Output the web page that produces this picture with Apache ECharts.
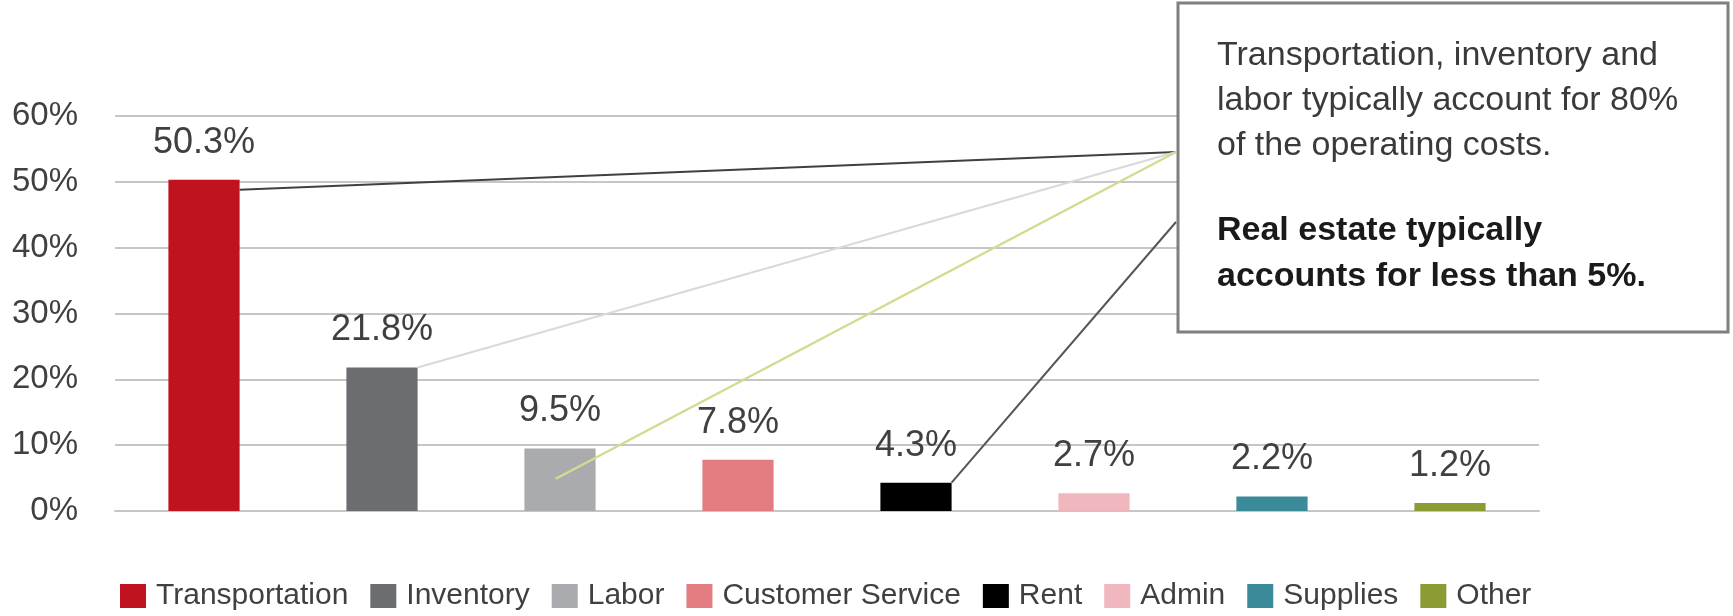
<!DOCTYPE html>
<html><head><meta charset="utf-8">
<script src="https://cdn.jsdelivr.net/npm/echarts@6/dist/echarts.min.js"></script>
<style>html,body{margin:0;padding:0;background:#fff}#c{width:1733px;height:616px}</style>
</head><body><div id="c"></div>
<script>
const categories = ['Transportation','Inventory','Labor','Customer Service','Rent','Admin','Supplies','Other'];
const shares = [50.3, 21.8, 9.5, 7.8, 4.3, 2.7, 2.2, 1.2];
const barColors = ['#c1121f','#6b6d70','#a9abae','#e27c80','#000000','#f1b7be','#3a8a99','#8d9b34'];
const noteLines = ['Transportation, inventory and','labor typically account for 80%','of the operating costs.'];
const noteBold = ['Real estate typically','accounts for less than 5%.'];
// callout anchors: category index, value on the bar where line starts, horizontal offset in bar widths
const callouts = [
  {idx:0, value:48.8, edge:0.5, color:'#404040', width:2, target:0},
  {idx:1, value:21.8, edge:0.5, color:'#d9d9d9', width:2, target:0},
  {idx:2, value:4.9, edge:-0.06, color:'#d6da8e', width:2.5, target:0},
  {idx:4, value:4.3, edge:0.5, color:'#555555', width:2, target:1}
];
const FONT = '"Liberation Sans", Arial, sans-serif';
const box = {x:1178, y:3, w:550, h:329};
const targets = [[1176,152],[1176,222]];

const chart = echarts.init(document.getElementById('c'), null, {renderer:'canvas'});
chart.setOption({
  animation:false,
  backgroundColor:'#fff',
  grid:{left:115, right:194, top:116, bottom:105, containLabel:false},
  xAxis:{type:'category', data:categories, axisLabel:{show:false}, axisTick:{show:false},
    axisLine:{show:true, lineStyle:{color:'#c6c6c6', width:2}}},
  yAxis:{type:'value', min:0, max:60, interval:10,
    axisLabel:{formatter:'{value}%', fontSize:33, color:'#404040', fontFamily:FONT, margin:37},
    axisLine:{show:false}, axisTick:{show:false},
    splitLine:{lineStyle:{color:'#c6c6c6', width:2}}},
  legend:{data:categories, left:115, top:576, itemWidth:26, itemHeight:24, itemGap:22, icon:'rect',
    textStyle:{fontSize:30, color:'#404040', fontFamily:FONT, padding:[0,0,0,5]}},
  series: categories.map((name,i)=>({
    name, type:'bar', stack:'all', barWidth:'40%',
    itemStyle:{color:barColors[i]},
    data: shares.map((v,j)=> j===i ? v : '-'),
    label:{show:true, position:'top', distance:19, formatter:'{c}%', fontSize:36, color:'#404040', fontFamily:FONT}
  }))
});

const p0 = chart.convertToPixel({xAxisIndex:0, yAxisIndex:0}, [0, 0]);
const p1 = chart.convertToPixel({xAxisIndex:0, yAxisIndex:0}, [1, 0]);
const barW = (p1[0]-p0[0]) * 0.4;
const graphics = [];
callouts.forEach(c=>{
  const p = chart.convertToPixel({xAxisIndex:0, yAxisIndex:0}, [c.idx, c.value]);
  const t = targets[c.target];
  graphics.push({type:'line', z:50, shape:{x1:p[0]+c.edge*barW, y1:p[1], x2:t[0], y2:t[1]},
    style:{stroke:c.color, lineWidth:c.width}});
});
graphics.push({type:'rect', z:40, shape:{x:box.x, y:box.y, width:box.w, height:box.h},
  style:{fill:'#fff', stroke:'#7f7f7f', lineWidth:3}});
noteLines.forEach((s,i)=>{
  graphics.push({type:'text', z:60, x:1217, y:56+i*45,
    style:{text:s, font:'34px '+FONT, fill:'#3a3a3a', verticalAlign:'middle', align:'left'}});
});
noteBold.forEach((s,i)=>{
  graphics.push({type:'text', z:60, x:1217, y:231+i*46,
    style:{text:s, font:'bold 34px '+FONT, fill:'#1a1a1a', verticalAlign:'middle', align:'left'}});
});
chart.setOption({graphic:graphics});
</script></body></html>
